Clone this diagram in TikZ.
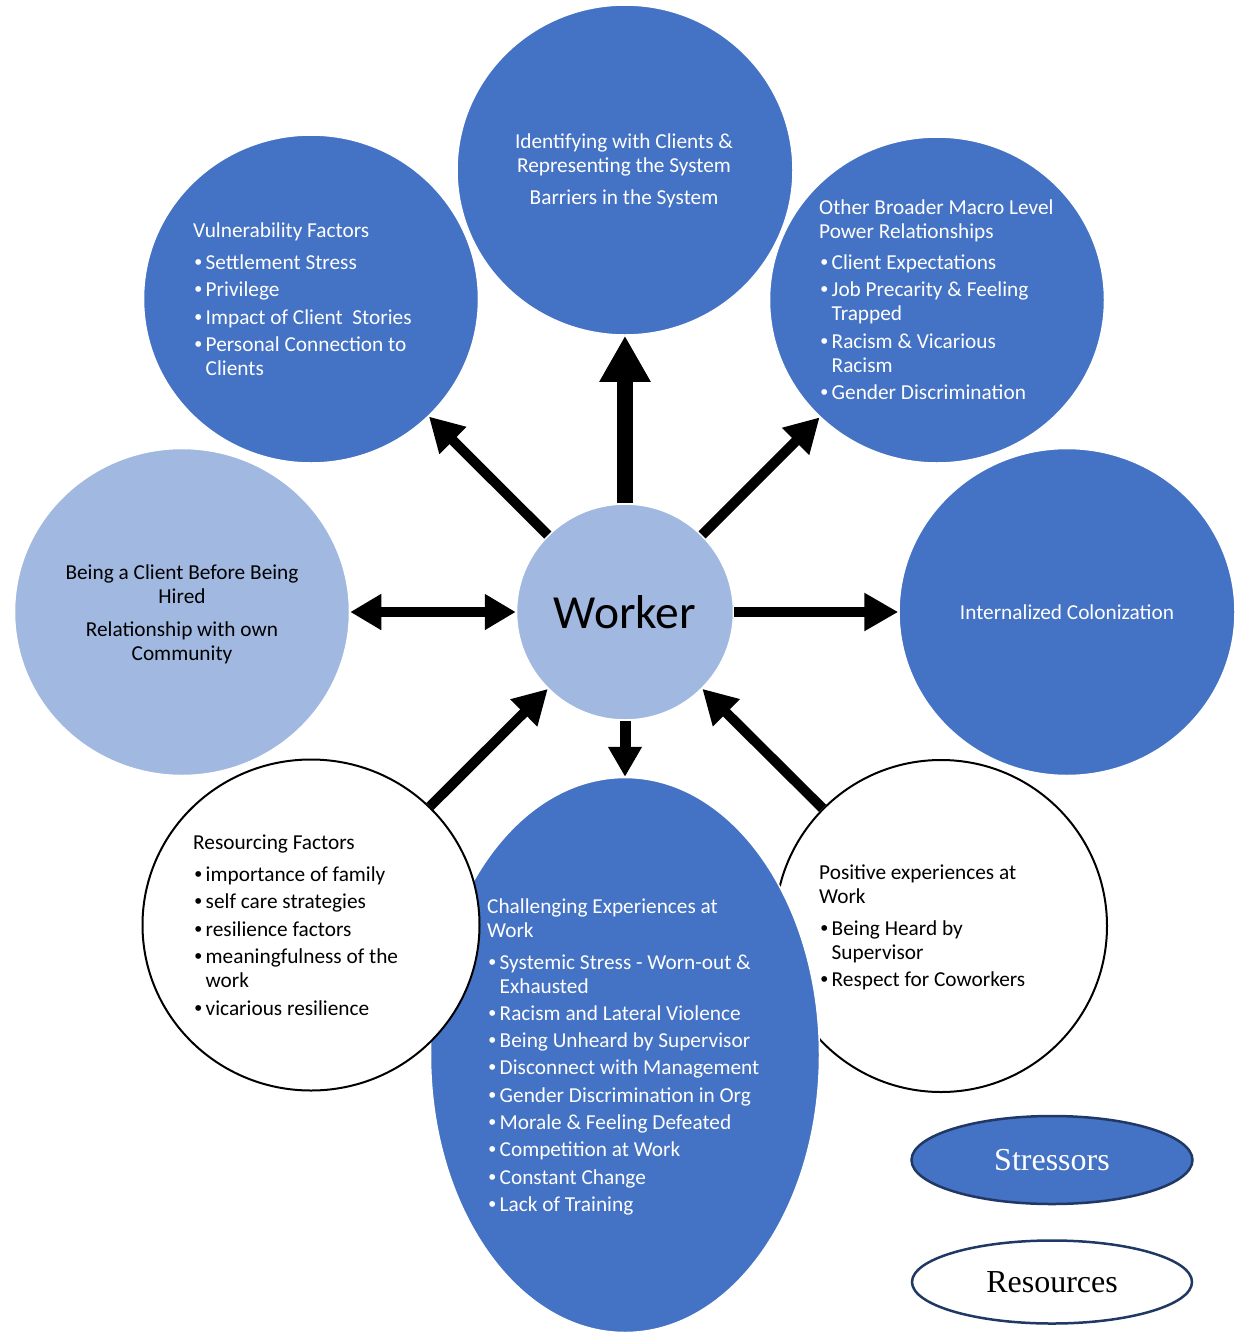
\documentclass[tikz,border=0pt]{standalone}
\usepackage{fontspec}
\setmainfont{Carlito}
\newfontfamily\legendfont{Liberation Serif}
\newfontfamily\bulletfont{Liberation Sans}
\usetikzlibrary{shapes.geometric, arrows.meta}

\definecolor{accent}{HTML}{4472C4}
\definecolor{accentlight}{HTML}{A1B8E1}
\definecolor{navy}{HTML}{203864}

% bullet marker and continuation indent for list lines
\newcommand\bul{\makebox[12.5pt][l]{\hspace*{1.5pt}{\bulletfont\textbullet}}}
\newcommand\cont{\hspace*{12.5pt}}

\tikzset{
  blob/.style={ellipse, inner sep=0pt, fill=accent, draw=white, line width=1.5pt},
  lightblob/.style={blob, fill=accentlight},
  resblob/.style={ellipse, inner sep=0pt, fill=white, draw=black, line width=2pt},
  txt/.style={anchor=north west, inner sep=0pt, align=left, font=\fontsize{21.3}{24}\selectfont},
  ctxt/.style={txt, anchor=north, align=center},
  arr/.style={line width=10pt, -{Triangle[length=34pt,width=36pt]}},
  bigarr/.style={line width=16pt, -{Triangle[length=46pt,width=48pt]}},
  legend/.style={ellipse, inner sep=0pt, draw=navy, line width=2.5pt,
    font=\legendfont\fontsize{32}{38}\selectfont},
}

\begin{document}
\begin{tikzpicture}[x=1pt, y=-1pt]
\useasboundingbox (0,0) rectangle (1235,1342);

% outer ring of circles
\node[blob, minimum width=336pt, minimum height=330pt] (top) at (625,170) {};
\node[blob, minimum width=335pt, minimum height=328pt] (vuln) at (311,299) {};
\node[blob, minimum width=335pt, minimum height=326pt] (macro) at (937,300) {};
\node[lightblob, minimum width=335pt, minimum height=327pt] (client) at (182,612) {};
\node[blob, minimum width=336pt, minimum height=327pt, text=white,
      font=\fontsize{21.3}{24}\selectfont] (colon) at (1067,612) {Internalized Colonization};
\node[resblob, minimum width=332pt, minimum height=332pt] (positive) at (941,926) {};
\node[blob, minimum width=389pt, minimum height=555pt] (challenge) at (625,1055) {};
\node[resblob, minimum width=337pt, minimum height=331pt] (resource) at (311,925) {};

% centre
\node[lightblob, minimum width=217pt, minimum height=216pt,
      font=\fontsize{47.5}{56}\selectfont] (worker) at (625,612) {Worker};

% circle texts
\node[ctxt, text=white] (toptxt) at (624,131) {\strut Identifying with Clients \&\\
  Representing the System\\[8pt]
  Barriers in the System};

\node[txt, text=white] (vulntxt) at (193,220) {\strut Vulnerability Factors\\[8pt]
  \bul Settlement Stress\\[3.5pt]
  \bul Privilege\\[3.5pt]
  \bul Impact of Client\ \ Stories\\[3.5pt]
  \bul Personal Connection to\\
  \cont Clients};

\node[txt, text=white] (macrotxt) at (819,197) {\strut Other Broader Macro Level\\
  Power Relationships\\[7pt]
  \bul Client Expectations\\[3.5pt]
  \bul Job Precarity \& Feeling\\
  \cont Trapped\\[3.5pt]
  \bul Racism \& Vicarious\\
  \cont Racism\\[3.5pt]
  \bul Gender Discrimination};

\node[ctxt, text=black] (clienttxt) at (182,562) {\strut Being a Client Before Being\\
  Hired\\[9pt]
  Relationship with own\\
  Community};

\node[txt, text=black] (resourcetxt) at (193,832) {\strut Resourcing Factors\\[8pt]
  \bul importance of family\\[3.5pt]
  \bul self care strategies\\[3.5pt]
  \bul resilience factors\\[3.5pt]
  \bul meaningfulness of the\\
  \cont work\\[3.5pt]
  \bul vicarious resilience};

\node[txt, text=white] (challengetxt) at (487,896) {\strut Challenging Experiences at\\
  Work\\[8pt]
  \bul Systemic Stress - Worn-out \&\\
  \cont Exhausted\\[3.3pt]
  \bul Racism and Lateral Violence\\[3.3pt]
  \bul Being Unheard by Supervisor\\[3.3pt]
  \bul Disconnect with Management\\[3.3pt]
  \bul Gender Discrimination in Org\\[3.3pt]
  \bul Morale \& Feeling Defeated\\[3.3pt]
  \bul Competition at Work\\[3.3pt]
  \bul Constant Change\\[3.3pt]
  \bul Lack of Training};

\node[txt, text=black] (positivetxt) at (819,862) {\strut Positive experiences at\\
  Work\\[8pt]
  \bul Being Heard by\\
  \cont Supervisor\\[3.5pt]
  \bul Respect for Coworkers};

% legend
\node[legend, fill=accent, text=white, minimum width=281pt, minimum height=88pt]
  (stressors) at (1052,1160) {Stressors};
\node[legend, fill=white, text=black, minimum width=280pt, minimum height=83pt]
  (resources) at (1052,1282) {Resources};

% connectors
\draw[bigarr] (worker) -- (top);
\draw[arr] (worker) -- (vuln);
\draw[arr] (worker) -- (macro);
\draw[arr] (worker) -- (colon);
\draw[line width=10pt, {Triangle[length=31pt,width=34pt]}-{Triangle[length=31pt,width=34pt]}]
  (client) -- (worker);
\draw[line width=11pt, -{Triangle[length=30pt,width=32pt]}] (worker) -- (challenge);
\draw[arr] (resource) -- (worker);
\draw[arr] (positive) -- (worker);
\end{tikzpicture}
\end{document}
